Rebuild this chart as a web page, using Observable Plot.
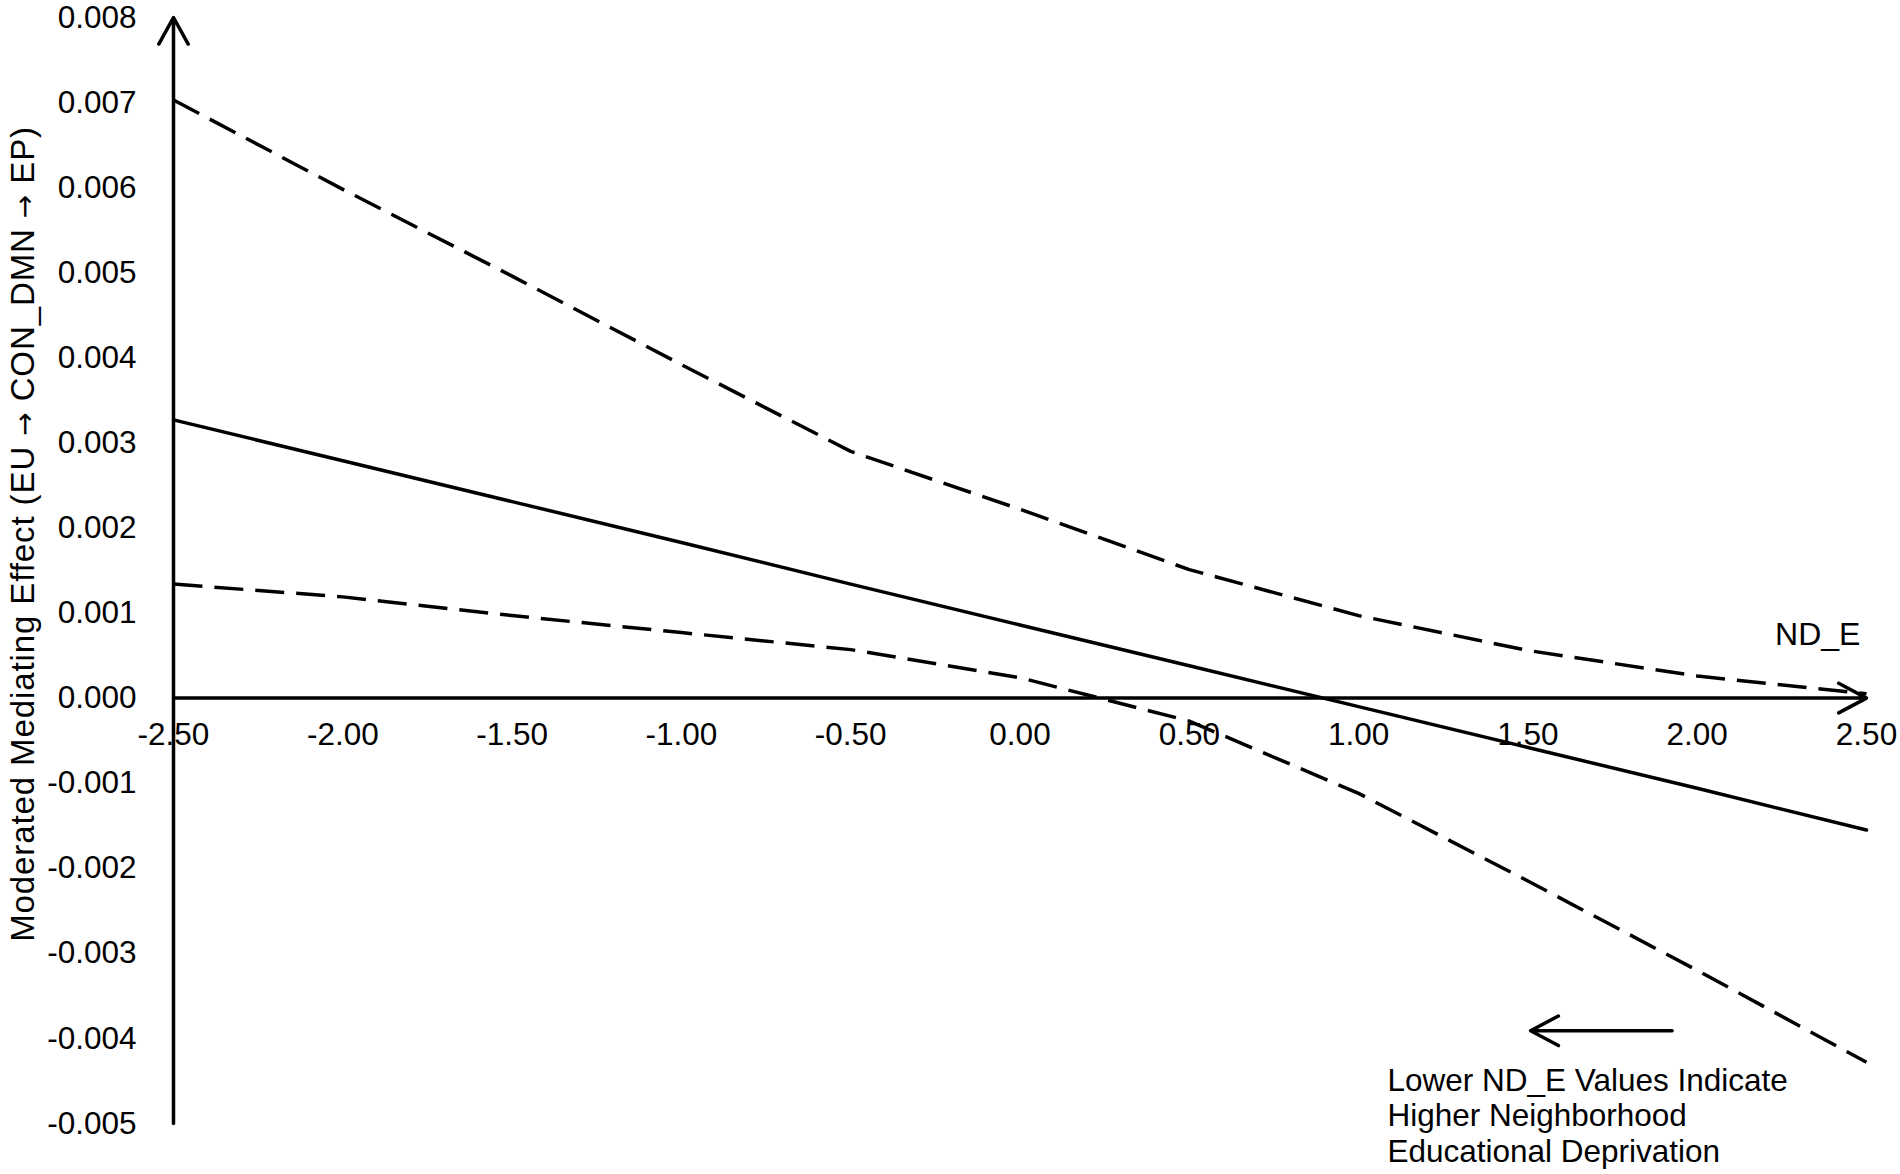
<!DOCTYPE html>
<html>
<head>
<meta charset="utf-8">
<script src="https://cdn.jsdelivr.net/npm/d3@7"></script>
<script src="https://cdn.jsdelivr.net/npm/@observablehq/plot@0.6"></script>
<style>
  html, body { margin: 0; padding: 0; background: #fff; }
  #chart svg { display: block; }
</style>
</head>
<body>
<div id="chart"></div>
<script>
// Moderator values (ND_E)
const ndE = [-2.5, -2.0, -1.5, -1.0, -0.5, 0.0, 0.5, 1.0, 1.5, 2.0, 2.5];
// Moderated mediating effect (point estimate)
const effect = [0.00327, 0.00279, 0.00231, 0.00183, 0.00134, 0.00086, 0.00038, -0.00010, -0.00058, -0.00106, -0.00155];
// Upper confidence bound
const upperCI = [0.00703, 0.00598, 0.00496, 0.00392, 0.00290, 0.00222, 0.00151, 0.00097, 0.00056, 0.00026, 0.00005];
// Lower confidence bound
const lowerCI = [0.00134, 0.00119, 0.00097, 0.00077, 0.00057, 0.00024, -0.00027, -0.00112, -0.00215, -0.00320, -0.00428];

// Axis ticks and labels
const xTicks = [-2.5, -2.0, -1.5, -1.0, -0.5, 0.0, 0.5, 1.0, 1.5, 2.0, 2.5];
const xTickLabels = ["-2.50", "-2.00", "-1.50", "-1.00", "-0.50", "0.00", "0.50", "1.00", "1.50", "2.00", "2.50"];
const yTicks = [-0.005, -0.004, -0.003, -0.002, -0.001, 0, 0.001, 0.002, 0.003, 0.004, 0.005, 0.006, 0.007, 0.008];
const yTickLabels = ["-0.005", "-0.004", "-0.003", "-0.002", "-0.001", "0.000", "0.001", "0.002", "0.003", "0.004", "0.005", "0.006", "0.007", "0.008"];

// Texts
const yTitle = "Moderated Mediating Effect (EU \u2192 CON_DMN \u2192 EP)";
const xName = "ND_E";
const noteLines = ["Lower ND_E Values Indicate", "Higher Neighborhood", "Educational Deprivation"];

// Annotation anchors (data units)
const xDomain = [-2.5, 2.5];
const yDomain = [-0.005, 0.008];
const noteArrow = [{x1: 1.926, x2: 1.508, y: -0.00391}];
const notePos = [{x: 1.085, y: -0.00462}];
const xNamePos = [{x: 2.482, y: 0.00062}];
const yTitlePos = [{x: -2.5, y: 0.00193}];

const rows = (ys) => ndE.map((x, i) => ({x, y: ys[i]}));

const font = "'Liberation Sans', Arial, Helvetica, sans-serif";
const fs = 31.5;

const chart = Plot.plot({
  width: 1900,
  height: 1174,
  marginLeft: 173,
  marginRight: 34,
  marginTop: 17,
  marginBottom: 51,
  style: {fontFamily: font, background: "#fff", color: "#000"},
  x: {domain: xDomain, axis: null},
  y: {domain: yDomain, axis: null},
  marks: [
    // axes with arrowheads
    Plot.arrow([0], {x1: xDomain[0], y1: yDomain[0], x2: xDomain[0], y2: yDomain[1], stroke: "#000", strokeWidth: 3.5, headLength: 13, headAngle: 58}),
    Plot.arrow([0], {x1: xDomain[0], y1: 0, x2: xDomain[1], y2: 0, stroke: "#000", strokeWidth: 3.5, headLength: 13.5, headAngle: 56}),
    // data lines
    Plot.line(rows(upperCI), {x: "x", y: "y", stroke: "#000", strokeWidth: 3.5, strokeDasharray: "29,12", strokeLinecap: "butt"}),
    Plot.line(rows(lowerCI), {x: "x", y: "y", stroke: "#000", strokeWidth: 3.5, strokeDasharray: "29,12", strokeLinecap: "butt"}),
    Plot.line(rows(effect), {x: "x", y: "y", stroke: "#000", strokeWidth: 3.5}),
    // tick labels
    Plot.text(xTicks, {x: d => d, y: 0, dy: 36.5, text: (d, i) => xTickLabels[i], fontSize: fs, fill: "#000"}),
    Plot.text(yTicks, {x: xDomain[0], y: d => d, dx: -37, textAnchor: "end", text: (d, i) => yTickLabels[i], fontSize: fs, fill: "#000"}),
    // axis titles
    Plot.text(yTitlePos, {x: "x", y: "y", dx: -150, rotate: -90, text: () => yTitle, fontSize: 33, fill: "#000"}),
    Plot.text(xNamePos, {x: "x", y: "y", textAnchor: "end", lineAnchor: "bottom", text: () => xName, fontSize: 32, fill: "#000"}),
    // annotation
    Plot.arrow(noteArrow, {x1: "x1", y1: "y", x2: "x2", y2: "y", stroke: "#000", strokeWidth: 3.5, headLength: 13.5, headAngle: 56}),
    ...noteLines.map((line, k) =>
      Plot.text(notePos, {x: "x", y: "y", dy: 35.3 * k, textAnchor: "start", lineAnchor: "bottom", text: () => line, fontSize: fs, fill: "#000"})
    )
  ]
});

// Use a font with a full-size arrow glyph for the arrows in the y title
d3.select(chart).selectAll("text")
  .filter(function () { return this.textContent === yTitle; })
  .each(function () {
    const t = d3.select(this);
    t.text(null).style("letter-spacing", "0.9px");
    yTitle.split(/(\u2192)/).forEach(part => {
      const ts = t.append("tspan").text(part);
      if (part === "\u2192") ts.style("font-family", "'DejaVu Sans', sans-serif").style("font-size", "28px");
    });
  });

document.getElementById("chart").appendChild(chart);
</script>
</body>
</html>
